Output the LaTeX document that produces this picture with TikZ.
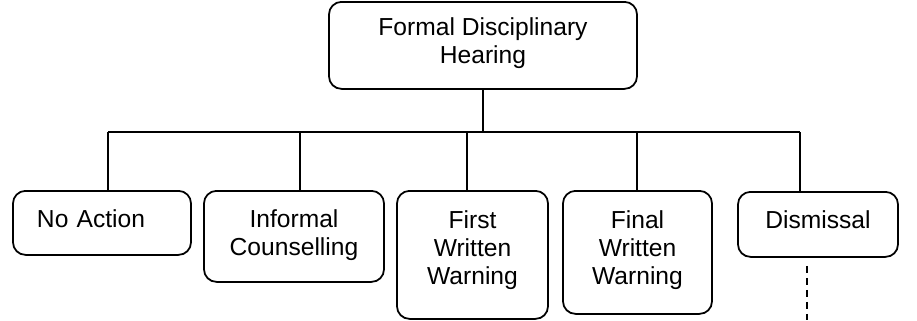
\documentclass[tikz,border=0pt]{standalone}
\usepackage{fontspec}
\setmainfont{Liberation Sans}
\usetikzlibrary{positioning}

\begin{document}
\begin{tikzpicture}[line width=1pt, font=\fontsize{14}{16}\selectfont]
    \tikzstyle{block} = [rectangle, draw, align=center, rounded corners=0.25cm, anchor=north, inner xsep=0pt, inner ysep=0pt, text height=0.74cm]
    \tikzstyle{line} = [draw]

    \useasboundingbox (0,0) rectangle (18.34,-6.4);

    % 节点
    \node[block, minimum width=6.16cm, text height=1.24cm, text depth=0.5cm] (hearing) at (9.66,-0.02) {Formal Disciplinary\\Hearing};
    \node[block, minimum width=3.56cm, text depth=0.54cm, align=left, text width=2.6cm, inner xsep=0.48cm] (noaction) at (2.04,-3.8) {No Action};
    \node[block, minimum width=3.6cm, text height=1.3cm, text depth=0.52cm] (informal) at (5.88,-3.8) {Informal\\Counselling};
    \node[block, minimum width=3.02cm, text height=1.88cm, text depth=0.68cm] (first) at (9.45,-3.8) {First\\Written\\Warning};
    \node[block, minimum width=2.98cm, text height=1.88cm, text depth=0.58cm] (final) at (12.75,-3.8) {Final\\Written\\Warning};
    \node[block, minimum width=3.2cm, text depth=0.56cm] (dismissal) at (16.36,-3.82) {Dismissal};

    % 连接线
    \coordinate (bus1) at (2.16,-2.64);
    \coordinate (bus2) at (6.0,-2.64);
    \coordinate (bus3) at (9.34,-2.64);
    \coordinate (bus4) at (12.74,-2.64);
    \coordinate (bus5) at (16.0,-2.64);
    \coordinate (tail) at (16.14,-6.4);

    \path [line] (hearing) -- (hearing |- bus1);
    \path [line] (bus1) -- (bus5);
    \path [line] (bus1) -- (bus1 |- noaction.north);
    \path [line] (bus2) -- (bus2 |- informal.north);
    \path [line] (bus3) -- (bus3 |- first.north);
    \path [line] (bus4) -- (bus4 |- final.north);
    \path [line] (bus5) -- (bus5 |- dismissal.north);
    \path [line, dash pattern=on 0.14cm off 0.1cm] (tail |- dismissal.south) ++(0,-0.16) -- (tail);
\end{tikzpicture}
\end{document}
